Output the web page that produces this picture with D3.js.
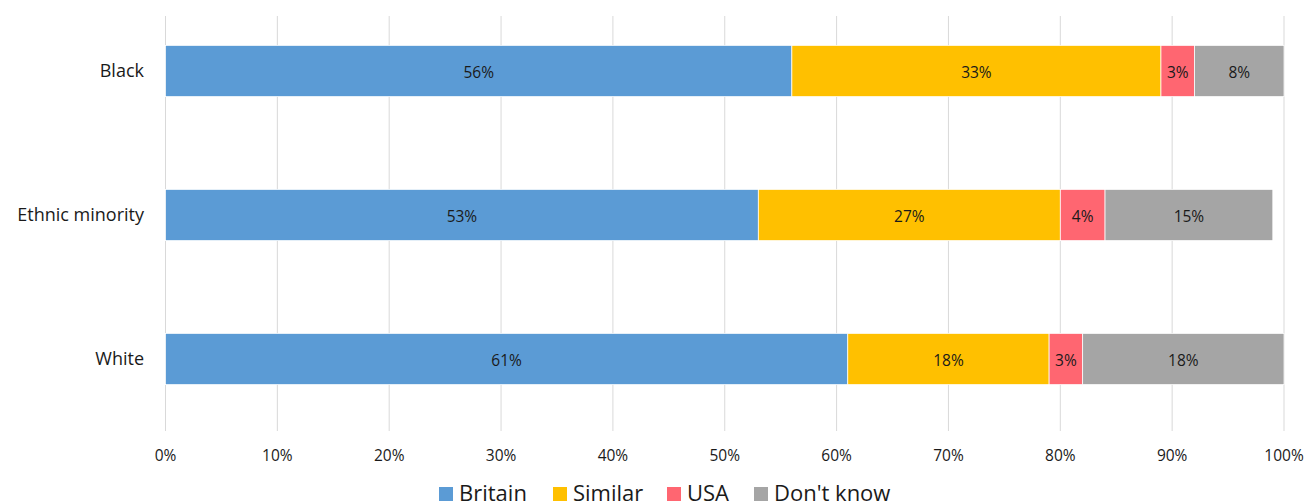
<!DOCTYPE html>
<html><head><meta charset="utf-8">
<script src="https://cdn.jsdelivr.net/npm/d3@7"></script>
<style>body{margin:0;background:#fff}svg{display:block}text{font-family:"Open Sans",Lato,sans-serif;fill:#1a1a1a}</style>
</head><body><svg id="c" width="1306" height="504"></svg>
<script>
const categories = ["Black","Ethnic minority","White"];
const seriesNames = ["Britain","Similar","USA","Don't know"];
const britain = [56,53,61];
const similar = [33,27,18];
const usa = [3,4,3];
const dontKnow = [8,15,18];
const colors = ["#5B9BD5","#FFC000","#FF6671","#A5A5A5"];
const ticks = [0,10,20,30,40,50,60,70,80,90,100];

const svg = d3.select("#c");
const x = d3.scaleLinear().domain([0,100]).range([165.5,1284]);
const y = d3.scaleBand().domain(categories).range([-1,431]).paddingInner(0.644).paddingOuter(0.322);

svg.append("g").selectAll("line").data(ticks).join("line")
  .attr("x1",d=>x(d)).attr("x2",d=>x(d)).attr("y1",16).attr("y2",431)
  .attr("stroke","#d9d9d9").attr("stroke-width",1);

const series = [britain,similar,usa,dontKnow];
const rows = categories.map((c,i)=>{
  let acc=0; return series.map((s,k)=>{const r={cat:c,k,v:s[i],x0:acc,x1:acc+s[i]}; acc+=s[i]; return r;});
}).flat();

const g = svg.append("g");
g.selectAll("rect").data(rows).join("rect")
  .attr("x",d=>x(d.x0)).attr("width",d=>x(d.x1)-x(d.x0))
  .attr("y",d=>y(d.cat)).attr("height",y.bandwidth())
  .attr("fill",d=>colors[d.k]).attr("stroke","#fff").attr("stroke-width",0.75);
g.selectAll("text").data(rows).join("text")
  .attr("x",d=>(x(d.x0)+x(d.x1))/2).attr("y",d=>y(d.cat)+y.bandwidth()/2+1)
  .attr("text-anchor","middle").attr("dominant-baseline","central")
  .attr("font-size",15.5).text(d=>d.v+"%");

svg.append("g").selectAll("text").data(categories).join("text")
  .attr("x",144).attr("y",d=>y(d)+y.bandwidth()/2-1).attr("text-anchor","end")
  .attr("dominant-baseline","central").attr("font-size",18).text(d=>d);

svg.append("g").selectAll("text").data(ticks).join("text")
  .attr("x",d=>x(d)).attr("y",455).attr("text-anchor","middle")
  .attr("dominant-baseline","central").attr("font-size",15.5).text(d=>d+"%");

const legX = [439,553,667,754];
const lg = svg.append("g").selectAll("g").data(seriesNames).join("g")
  .attr("transform",(d,i)=>`translate(${legX[i]},0)`);
lg.append("rect").attr("x",0).attr("y",487).attr("width",14).attr("height",14).attr("fill",(d,i)=>colors[i]);
lg.append("text").attr("x",20).attr("y",501).attr("font-size",22).text(d=>d);
</script></body></html>
